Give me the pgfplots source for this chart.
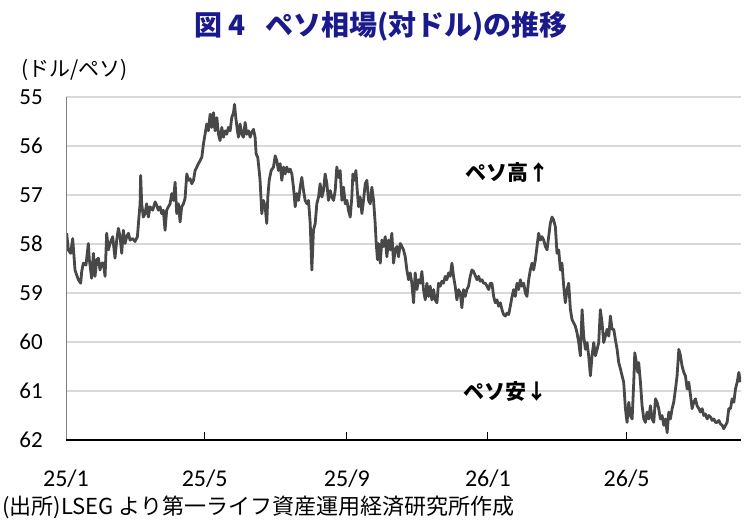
\documentclass[border=0pt]{standalone}
\usepackage{pgfplots}
\pgfplotsset{compat=1.18}
\usepackage{fontspec}
\setmainfont{Carlito}
\newfontfamily\jp{Noto Sans CJK JP}
\definecolor{titleblue}{RGB}{26,26,140}
\definecolor{linegray}{RGB}{72,72,72}
\definecolor{gridgray}{RGB}{217,217,217}
\definecolor{axgray}{RGB}{128,128,128}
\begin{document}
\begin{tikzpicture}[x=1pt,y=1pt]
\useasboundingbox (0,0) rectangle (746,520);
\begin{axis}[
  at={(66pt,80pt)}, anchor=south west,
  scale only axis, width=675pt, height=343pt,
  xmin=0, xmax=584, ymin=55, ymax=62, y dir=reverse,
  xtick={0,120,243,365,485}, xticklabels={25/1,25/5,25/9,26/1,26/5},
  ytick={55,56,57,58,59,60,61,62},
  ymajorgrids, grid style={gridgray, line width=1.5pt},
  axis line style={draw=none},
  tick style={draw=none},
  /pgf/number format/assume math mode=true,
  xticklabel style={font=\fontsize{24}{28}\selectfont, anchor=base, inner sep=0pt, yshift=-46pt},
  yticklabel style={font=\fontsize{23}{27}\selectfont, anchor=east, inner sep=0pt, xshift=-23pt},
]
\addplot[linegray, line width=2.8pt, line join=round, no markers] table {
0.6 57.78
2.0 58.12
4.0 58.19
5.8 57.89
7.8 58.53
9.2 58.63
10.7 58.73
12.7 58.80
13.6 58.56
15.0 58.39
17.3 58.43
19.3 57.99
20.2 58.32
22.2 58.70
23.7 58.19
25.1 58.66
26.6 58.32
28.0 58.29
29.4 58.53
30.9 58.39
32.3 58.39
33.8 58.66
35.2 57.78
36.7 58.12
38.1 57.99
40.4 57.85
42.4 58.29
43.9 57.92
45.3 57.68
46.8 57.85
48.2 58.19
49.6 57.72
51.1 57.99
52.5 57.85
54.0 57.78
55.4 57.92
57.7 57.89
59.7 57.95
61.8 57.85
62.9 57.51
64.1 57.18
64.6 56.60
65.5 57.18
66.9 57.45
68.4 57.38
69.8 57.18
71.3 57.45
72.7 57.24
75.0 57.31
77.1 57.14
78.5 57.21
79.9 57.31
81.4 57.24
82.8 57.38
84.2 57.31
85.7 57.72
87.1 57.31
88.6 57.24
90.0 57.18
91.5 56.97
92.9 57.11
94.4 56.74
95.8 57.38
97.3 57.18
98.7 57.55
100.1 57.24
101.6 57.18
103.0 57.07
104.5 56.57
105.9 56.70
107.4 56.67
108.8 56.77
110.3 56.70
111.7 56.50
114.6 56.36
117.5 56.23
118.9 55.96
120.3 55.76
121.8 55.55
123.2 55.69
124.7 55.35
126.1 55.62
127.6 55.32
129.0 55.69
130.5 55.42
131.9 55.76
133.3 55.89
134.8 55.62
136.2 55.82
137.7 55.69
139.1 55.76
140.5 55.62
142.0 55.69
143.4 55.42
144.9 55.32
145.8 55.15
146.9 55.42
148.3 55.69
149.2 55.82
150.6 55.55
152.1 55.76
153.5 55.82
155.0 55.52
156.4 55.76
157.9 55.69
159.3 55.82
160.7 55.72
162.2 55.66
163.6 55.82
164.5 56.16
165.9 56.23
167.1 56.50
167.9 56.70
169.4 57.38
170.8 57.11
172.3 57.24
173.7 57.58
174.6 57.04
175.8 56.70
177.5 56.50
179.5 56.43
181.0 56.20
182.4 56.30
183.8 56.50
185.3 56.36
186.7 56.70
188.2 56.43
189.6 56.57
191.0 56.43
192.5 56.53
193.9 56.47
195.4 56.57
196.8 56.84
198.3 57.24
199.7 56.97
201.2 57.11
202.6 56.84
204.0 56.64
205.5 56.91
206.9 57.11
208.4 57.18
209.8 57.11
211.3 57.58
212.7 58.53
214.1 57.72
215.6 57.58
217.0 57.18
218.5 57.04
219.9 56.77
221.4 57.04
222.8 56.91
224.2 56.57
225.7 56.77
227.1 57.11
228.6 56.91
230.0 57.04
231.5 57.11
232.9 56.91
234.3 56.43
235.8 56.64
237.2 56.50
238.7 57.11
240.1 56.84
241.6 57.18
243.0 57.11
244.4 57.31
245.9 57.45
247.3 57.04
248.2 56.57
249.4 56.70
250.8 56.50
252.0 56.91
253.1 57.24
254.5 57.04
256.0 57.38
257.4 57.11
258.9 56.77
260.3 56.70
261.8 57.11
263.2 57.18
264.6 56.84
266.1 57.11
267.5 57.58
268.4 57.99
269.5 58.32
270.4 57.99
271.9 58.39
273.3 57.92
274.7 58.05
276.2 57.85
277.6 58.26
279.1 57.92
280.5 58.12
281.9 57.78
283.4 58.39
284.8 58.12
286.3 58.05
287.7 58.26
289.2 57.99
290.6 58.05
292.0 58.12
293.5 58.26
294.9 58.53
296.4 58.73
297.8 58.59
299.2 58.80
300.7 59.20
302.1 58.59
303.6 58.93
305.0 58.73
306.5 58.80
307.9 58.56
309.3 58.93
310.8 59.14
312.2 58.80
313.7 59.07
315.1 58.86
316.5 59.14
318.0 58.93
319.4 59.14
320.9 59.20
322.3 58.80
323.8 58.86
325.2 58.76
326.6 58.80
328.1 58.66
329.5 58.73
331.0 58.59
332.4 58.66
333.9 58.39
335.3 58.66
336.7 58.86
338.2 59.14
339.6 58.93
341.1 59.00
342.5 59.30
343.9 58.93
345.4 59.07
346.8 58.93
348.3 58.86
349.7 58.66
351.2 58.53
352.6 58.56
355.6 58.73
357.0 58.66
358.4 58.76
359.9 58.73
361.3 58.80
362.8 58.80
364.2 58.86
365.7 58.93
367.1 58.80
368.5 58.80
370.0 59.07
371.4 59.20
372.9 59.14
374.3 59.27
375.8 59.20
377.2 59.34
378.6 59.44
380.1 59.47
381.5 59.41
383.0 59.44
384.4 59.27
385.9 59.07
387.3 58.93
388.7 59.07
390.2 58.80
391.6 58.93
393.1 58.73
394.5 58.86
396.0 58.80
397.4 59.00
398.8 59.07
400.3 58.73
401.7 58.53
403.2 58.39
404.6 58.53
406.1 58.32
407.5 58.05
408.9 57.78
410.4 57.92
411.8 57.85
413.3 57.92
414.7 58.05
416.2 58.12
417.6 57.85
419.0 57.58
420.5 57.45
421.9 57.51
423.4 57.65
424.8 58.19
426.3 58.12
427.7 58.53
429.1 58.39
430.6 58.86
432.0 59.20
433.5 58.93
434.9 58.80
436.4 59.34
437.8 59.54
439.2 59.61
440.7 59.68
442.1 59.81
443.6 60.01
445.0 60.28
446.5 59.34
447.9 59.88
449.4 60.15
450.8 60.01
452.2 60.28
453.7 60.69
455.1 60.28
456.6 60.01
458.0 60.28
459.5 60.15
460.9 60.01
462.3 59.34
463.8 59.61
465.2 60.01
466.7 59.88
468.1 59.74
469.6 59.88
471.0 59.47
472.4 59.74
473.9 59.74
475.3 59.95
476.8 60.15
478.2 60.42
479.7 60.55
481.1 60.69
482.5 60.82
484.0 61.36
485.4 61.64
486.9 61.23
488.3 61.50
489.8 61.57
491.2 60.82
492.1 60.22
493.5 60.42
494.7 60.62
495.5 60.42
497.0 60.82
498.4 61.30
499.9 61.57
501.3 61.64
502.7 61.43
504.2 61.57
505.6 61.30
507.1 61.57
508.5 61.64
510.0 61.16
511.4 61.23
512.8 61.36
514.3 61.57
515.7 61.50
517.2 61.70
518.6 61.57
520.1 61.85
521.5 61.43
522.9 61.57
524.4 61.36
525.8 61.23
527.3 60.96
528.7 60.69
530.2 60.15
531.6 60.28
533.0 60.49
534.5 60.62
535.9 60.69
537.4 60.96
538.8 60.82
540.3 61.09
541.7 61.36
543.1 61.23
544.6 61.16
546.0 61.30
547.5 61.36
548.9 61.43
550.4 61.36
551.8 61.50
553.2 61.47
554.7 61.57
556.1 61.50
557.6 61.53
559.0 61.60
560.5 61.57
561.9 61.64
563.3 61.64
564.8 61.60
566.2 61.67
567.7 61.70
569.1 61.77
570.6 61.70
572.0 61.64
573.4 61.36
574.9 61.36
576.3 61.16
577.8 61.23
579.2 60.96
580.7 60.82
582.1 60.62
583.5 60.82
};
\draw[axgray, line width=1.5pt] (axis cs:0,55) -- (axis cs:0,62);
\draw[black, line width=1.5pt] (axis cs:0,62) -- (axis cs:584,62);
\draw[black, line width=1.2pt] (axis cs:120,62) -- ([yshift=8pt]axis cs:120,62);
\draw[black, line width=1.2pt] (axis cs:243,62) -- ([yshift=8pt]axis cs:243,62);
\draw[black, line width=1.2pt] (axis cs:365,62) -- ([yshift=8pt]axis cs:365,62);
\draw[black, line width=1.2pt] (axis cs:485,62) -- ([yshift=8pt]axis cs:485,62);
\end{axis}
\node[font=\jp\bfseries\fontsize{28}{32}\selectfont, text=titleblue] at (381,494) {図 4\hspace{0.7em}ペソ相場(対ドル)の推移};
\node[anchor=west, inner sep=0pt, font=\jp\fontsize{21}{25}\selectfont] at (21,450) {(ドル/ペソ)};
\node[font=\jp\bfseries\fontsize{21}{25}\selectfont] at (507,347) {ペソ高↑};
\node[font=\jp\bfseries\fontsize{21}{25}\selectfont] at (505,128) {ペソ安↓};
\node[anchor=west, inner sep=0pt, font=\jp\fontsize{22}{26}\selectfont] at (2,13) {(出所)LSEG より第一ライフ資産運用経済研究所作成};
\end{tikzpicture}
\end{document}
